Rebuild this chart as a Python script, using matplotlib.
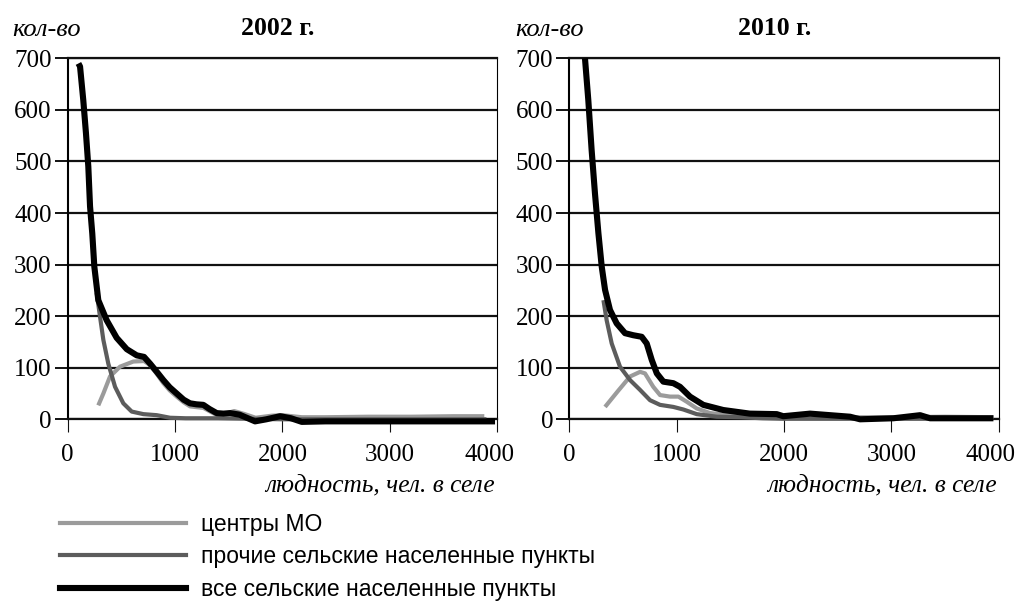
import matplotlib
matplotlib.use("Agg")
import matplotlib.pyplot as plt
from matplotlib.lines import Line2D
from matplotlib.transforms import ScaledTranslation

W, H = 1022, 607

# ---- data: 2002 ----
x_all_2002 = [100, 115, 145, 170, 192, 208, 229, 248, 285, 363, 456, 550, 643, 711, 767,
              830, 891, 950, 1015, 1080, 1139, 1200, 1263, 1320, 1388, 1450, 1512, 1600,
              1745, 1850, 1978, 2080, 2180, 2400, 2800, 3200, 3600, 3980]
y_all_2002 = [690, 684, 619, 555, 490, 413, 360, 296, 231, 192, 158, 136, 124, 121, 108,
              92, 76, 62, 50, 38, 31, 29, 28, 20, 12, 11, 12, 9,
              -4, 0, 6, 2, -5, -4, -4, -4, -4, -4]

x_mo_2002 = [285, 332, 394, 487, 611, 711, 767, 830, 891, 950, 1015, 1080, 1140, 1265, 1390,
             1470, 1550, 1650, 1750, 1900, 2000, 2180, 2400, 2800, 3200, 3600, 3880]
y_mo_2002 = [27, 50, 83, 102, 112, 113, 105, 88, 70, 56, 44, 33, 25, 22, 8,
             11, 16, 10, 3, 7, 8, 4, 4, 5, 5, 6, 6]

x_oth_2002 = [270, 301, 332, 378, 441, 518, 596, 705, 829, 953, 1100, 1400, 1700, 2000, 3000, 3900]
y_oth_2002 = [245, 199, 154, 108, 63, 31, 15, 10, 8, 3, 2, 2, 1, 0, 0, 0]

# ---- data: 2010 ----
x_all_2010 = [146, 177, 208, 239, 271, 302, 333, 379, 441, 519, 596, 674, 721, 768, 815,
              876, 969, 1031, 1124, 1248, 1434, 1681, 1932, 1993, 2242, 2615, 2708, 3018,
              3267, 3360, 3950]
y_all_2010 = [700, 619, 522, 438, 361, 296, 251, 212, 186, 167, 163, 160, 147, 115, 89,
              73, 70, 63, 44, 28, 18, 11, 10, 6, 11, 5, 0, 2,
              8, 2, 2]

x_mo_2010 = [333, 450, 566, 659, 705, 782, 845, 938, 1016, 1094, 1187, 1311, 1450, 1600, 1800,
             2000, 2500, 3000, 3500, 3950]
y_mo_2010 = [24, 54, 83, 92, 89, 63, 47, 44, 44, 34, 21, 12, 9, 7, 4,
             3, 4, 4, 5, 4]

x_oth_2010 = [318, 348, 395, 472, 566, 659, 752, 845, 969, 1062, 1187, 1373, 1600, 1800, 2000, 3000, 3900]
y_oth_2010 = [231, 192, 147, 102, 76, 57, 37, 28, 24, 19, 10, 5, 4, 2, 1, 1, 1]

years = ["2002 г.", "2010 г."]
x_ticks = [0, 1000, 2000, 3000, 4000]
y_ticks = [0, 100, 200, 300, 400, 500, 600, 700]
series_labels = ["центры МО", "прочие сельские населенные пункты", "все сельские населенные пункты"]
colors = ["#9b9b9b", "#5c5c5c", "#000000"]
widths = [3.0, 3.0, 4.4]

panels = [
    (x_mo_2002, y_mo_2002, x_oth_2002, y_oth_2002, x_all_2002, y_all_2002),
    (x_mo_2010, y_mo_2010, x_oth_2010, y_oth_2010, x_all_2010, y_all_2010),
]

serif = ["Liberation Serif", "DejaVu Serif"]
sans = ["Liberation Sans", "DejaVu Sans"]

fig = plt.figure(figsize=(W / 100, H / 100), dpi=100)

ax_left_px = [67.7, 569.3]
ax_w_px = 429.5
ax_top_px = 58.3
ax_bot_px = 419.3
title_x_px = [278, 775]
ylab_x_px = [12, 515]
xlab_right_px = [495, 997]

for i, (xm, ym, xo, yo, xa, ya) in enumerate(panels):
    ax = fig.add_axes([ax_left_px[i] / W, 1 - ax_bot_px / H,
                       ax_w_px / W, (ax_bot_px - ax_top_px) / H])
    ax.set_xlim(0, 4000)
    ax.set_ylim(0, 700)
    ax.set_xticks(x_ticks)
    ax.set_yticks(y_ticks)
    ax.yaxis.grid(True, color="#111111", linewidth=1.6)
    ax.set_axisbelow(True)
    for s in ["top", "bottom"]:
        ax.spines[s].set_linewidth(1.6)
        ax.spines[s].set_color("#111111")
    ax.spines["left"].set_linewidth(1.5)
    ax.spines["right"].set_linewidth(0.8)
    ax.tick_params(axis="both", direction="out", length=9.5, width=1.4, color="#111111",
                   labelsize=18)
    ax.tick_params(axis="x", pad=8, width=0.8)
    ax.tick_params(axis="y", pad=2)
    for lab in ax.get_xticklabels() + ax.get_yticklabels():
        lab.set_family(serif)
    last = ax.get_xticklabels()[-1]
    last.set_transform(last.get_transform() + ScaledTranslation(-8 / 100, 0, fig.dpi_scale_trans))

    for (xx, yy), c, lw, lab in zip([(xm, ym), (xo, yo), (xa, ya)], colors, widths, series_labels):
        ax.plot(xx, yy, color=c, linewidth=lw, solid_joinstyle="round",
                solid_capstyle="butt", clip_on=False, label=lab, zorder=3)

    fig.text(title_x_px[i] / W, 1 - 35 / H, years[i], ha="center", va="baseline",
             fontsize=18.5, fontweight="bold", family=serif)
    fig.text(ylab_x_px[i] / W, 1 - 36.5 / H, "кол-во", ha="left", va="baseline",
             fontsize=19, style="italic", family=serif)
    fig.text(xlab_right_px[i] / W, 1 - 491.5 / H, "людность, чел. в селе", ha="right",
             va="baseline", fontsize=18.3, style="italic", family=serif)

handles = [Line2D([], [], color=c, linewidth=lw) for c, lw in zip(colors, widths)]
fig.legend(handles, series_labels, loc="center left",
           bbox_to_anchor=(60 / W, 1 - 557 / H), frameon=False,
           prop={"family": sans, "size": 16.5}, handlelength=5.5, handletextpad=0.66,
           labelspacing=0.42, borderpad=0, borderaxespad=0)

fig.savefig("out.png", dpi=100)
